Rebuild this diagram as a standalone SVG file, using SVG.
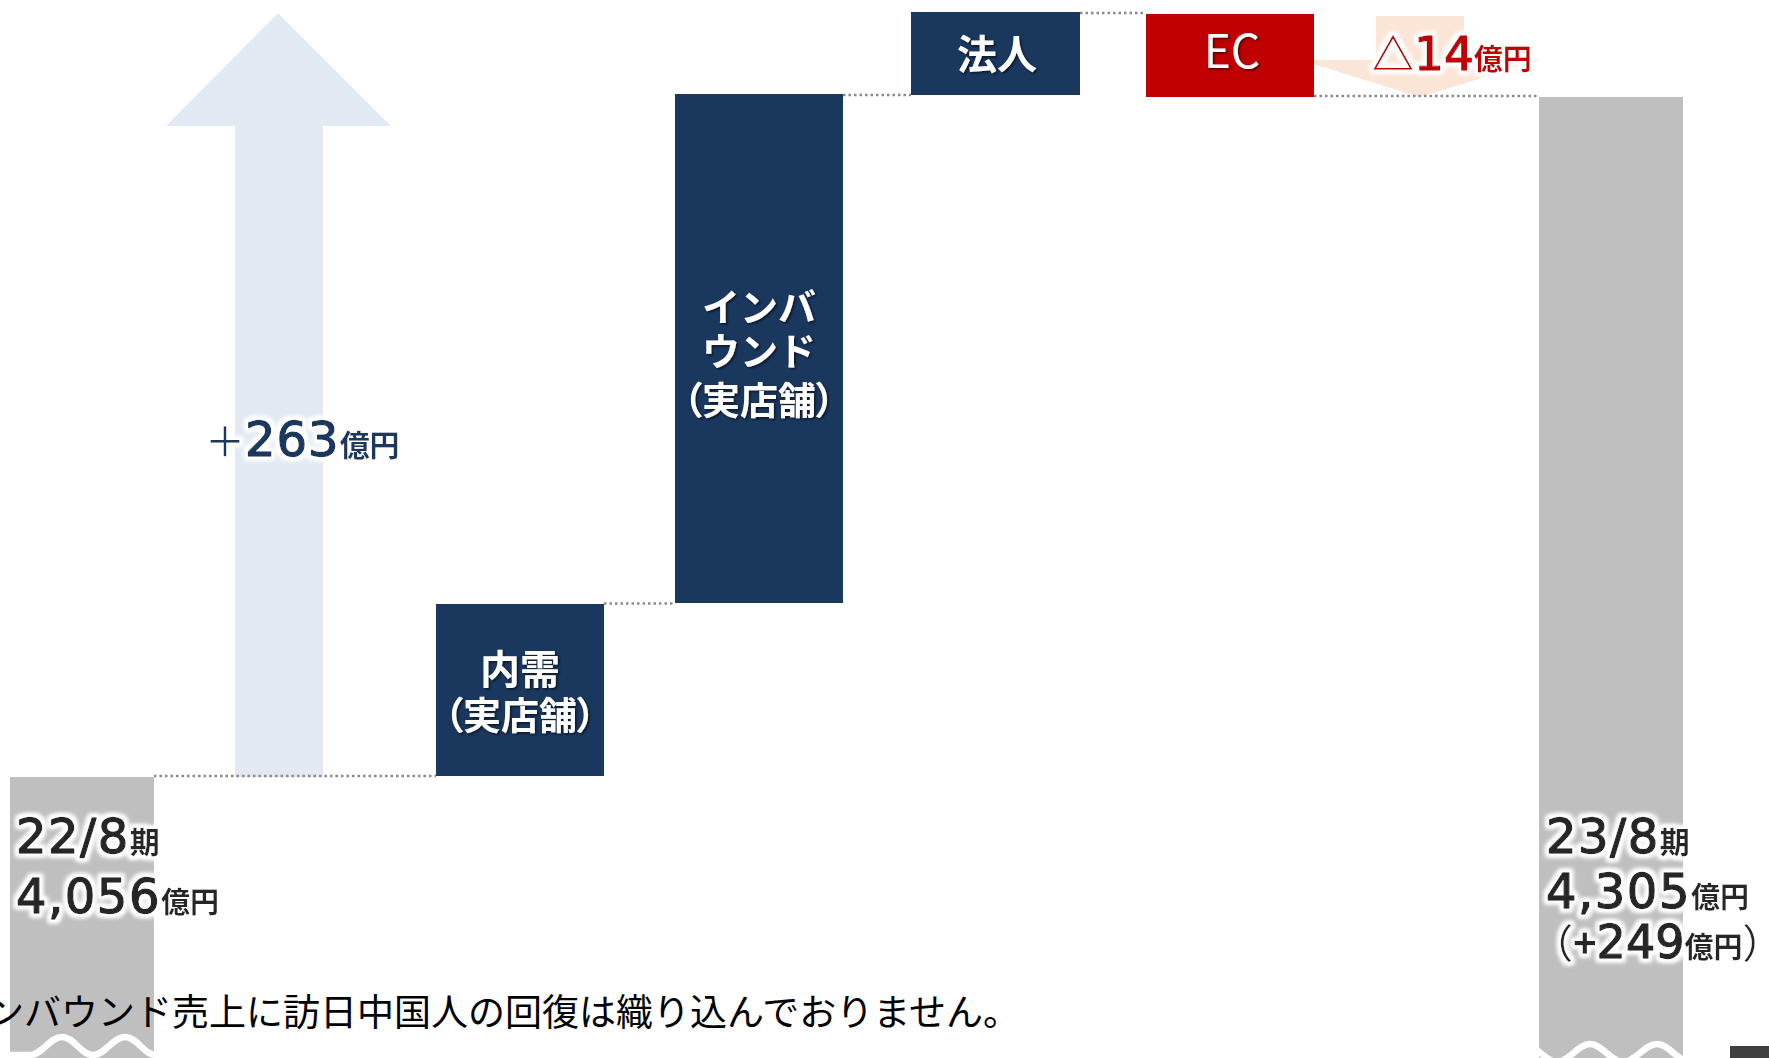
<svg xmlns="http://www.w3.org/2000/svg" width="1769" height="1058" viewBox="0 0 1769 1058">
<style>
.box{fill:#1A375E}
.red{fill:#C00000}
.bar{fill:#BFBFBF}
.dot{stroke:#8A8A8A;stroke-width:2.5;stroke-dasharray:2.5 3;fill:none}
.wave{stroke:#FFFFFF;stroke-width:6.5;fill:none}
.wt{fill:#FFFFFF;font-family:"Noto Sans CJK JP",sans-serif;font-weight:700;text-anchor:middle;filter:url(#shadow)}
.num{font-family:"DejaVu Sans","Noto Sans CJK JP",sans-serif;stroke-width:1.4;stroke-linejoin:round;filter:url(#glow)}
.kj{font-family:"Noto Sans CJK JP",sans-serif;font-weight:700;stroke:none}
.kr{font-family:"Noto Sans CJK JP",sans-serif;font-weight:400;stroke:none}
.palt{font-feature-settings:"palt"}
.note{font-family:"Noto Sans CJK JP",sans-serif;font-size:37px;fill:#000000}
</style>
<defs>
<filter id="glow" x="-10%" y="-30%" width="120%" height="160%">
<feMorphology in="SourceAlpha" operator="dilate" radius="2.5" result="d"/>
<feGaussianBlur in="d" stdDeviation="2.2" result="b"/>
<feFlood flood-color="#FFFFFF"/>
<feComposite in2="b" operator="in" result="g"/>
<feMerge><feMergeNode in="g"/><feMergeNode in="g"/><feMergeNode in="SourceGraphic"/></feMerge>
</filter>
<filter id="shadow" x="-10%" y="-20%" width="130%" height="150%">
<feDropShadow dx="1.5" dy="1.5" stdDeviation="1.2" flood-color="#000000" flood-opacity="0.6"/>
</filter>
<clipPath id="clipL"><rect x="10" y="777" width="144" height="281"/></clipPath>
<clipPath id="clipR"><rect x="1539" y="97" width="144" height="961"/></clipPath>
</defs>

<g id="up-arrow">
<path d="M278,13 L391,126 L323,126 L323,777 L235,777 L235,126 L166,126 Z" fill="#E1E9F3"/>
</g>
<g id="down-arrow">
<path d="M1376,16 L1464,16 L1464,60 L1540,60 L1420,97 L1300,60 L1376,60 Z" fill="#FBE5D6"/>
</g>

<g id="bar-2208">
<rect class="bar" x="10" y="777" width="144" height="281"/>
<path class="wave" clip-path="url(#clipL)" d="M-2,1055 C10,1055 18,1055 30,1055 C42,1055 50,1037 62,1037 C74,1037 81,1055 93,1055 C105,1055 113,1037 125,1037 C137,1037 144,1055 156,1055"/>
<text class="num" fill="#262626" stroke="#262626" font-size="48" letter-spacing="1.5" x="16" y="853">22/8<tspan class="kj" font-size="30" letter-spacing="0">期</tspan></text>
<text class="num" fill="#262626" stroke="#262626" font-size="48" letter-spacing="1.5" x="16" y="913">4,056<tspan class="kj" font-size="29" letter-spacing="0">億円</tspan></text>
</g>

<g id="bar-2308">
<rect class="bar" x="1539" y="97" width="144" height="961"/>
<path class="wave" clip-path="url(#clipR)" d="M1524,1044 C1536,1044 1545,1062 1557,1062 C1569,1062 1578,1044 1590,1044 C1602,1044 1611,1062 1623,1062 C1635,1062 1645,1044 1657,1044 C1669,1044 1678,1062 1690,1062"/>
<text class="num" fill="#262626" stroke="#262626" font-size="48" letter-spacing="1.5" x="1546" y="853">23/8<tspan class="kj" font-size="30" letter-spacing="0">期</tspan></text>
<text class="num" fill="#262626" stroke="#262626" font-size="48" letter-spacing="1.5" x="1546" y="908">4,305<tspan class="kj" font-size="29" letter-spacing="0">億円</tspan></text>
<text class="num" fill="#262626" stroke="#262626" font-size="46" x="1533" y="958"><tspan class="kr" font-size="40">（</tspan><tspan class="kj" font-size="40">+</tspan>249<tspan class="kj" font-size="29">億円</tspan><tspan class="kr" font-size="40">）</tspan></text>
</g>

<g id="node-naiju">
<rect class="box" x="436" y="604" width="168" height="172"/>
<text class="wt" font-size="40" x="520" y="684">内需</text>
<text class="wt palt" font-size="38" x="520" y="729">（実店舗）</text>
</g>

<g id="node-inbound">
<rect class="box" x="675" y="94" width="168" height="509"/>
<text class="wt" font-size="38" x="759" y="321">インバ</text>
<text class="wt" font-size="38" x="759" y="365">ウンド</text>
<text class="wt palt" font-size="38" x="759" y="414">（実店舗）</text>
</g>

<g id="node-hojin">
<rect class="box" x="911" y="12" width="169" height="83"/>
<text class="wt" font-size="40" x="997" y="69">法人</text>
</g>

<g id="node-ec">
<rect class="red" x="1146" y="14" width="168" height="83"/>
<text class="wt" font-size="46" style="font-weight:400" x="1232" y="68">EC</text>
</g>

<g id="label-total-up">
<text class="num" fill="#1A375E" stroke="#1A375E" font-size="48" letter-spacing="1" x="205" y="456"><tspan class="kr" font-size="40" letter-spacing="0">＋</tspan>263<tspan class="kj" font-size="30" letter-spacing="0">億円</tspan></text>
</g>
<g id="label-ec-down">
<text class="num" fill="#C00000" stroke="#C00000" font-size="47" x="1372" y="70"><tspan class="kj" font-size="42">△</tspan>14<tspan class="kj" font-size="29">億円</tspan></text>
</g>

<g id="connectors">
<line class="dot" x1="154" y1="776" x2="436" y2="776"/>
<line class="dot" x1="604" y1="603.5" x2="675" y2="603.5"/>
<line class="dot" x1="843" y1="95" x2="911" y2="95"/>
<line class="dot" x1="1080" y1="13" x2="1146" y2="13"/>
<line class="dot" x1="1314" y1="96" x2="1539" y2="96"/>
</g>

<text class="note" x="-13" y="1026">ンバウンド売上に訪日中国人の回復は織り込んでおりません。</text>
<rect x="1730" y="1046" width="39" height="12" fill="#404040"/>
</svg>
